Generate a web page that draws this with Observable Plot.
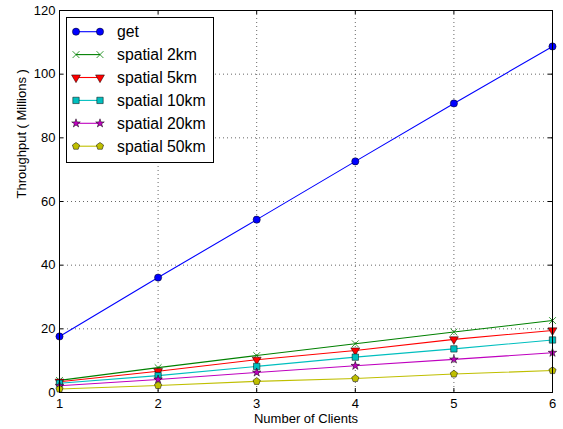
<!DOCTYPE html>
<html><head><meta charset="utf-8">
<script src="https://cdn.jsdelivr.net/npm/d3@7"></script>
<script src="https://cdn.jsdelivr.net/npm/@observablehq/plot@0.6"></script>
<style>
body{margin:0;background:#fff;}
</style>
</head><body><div id="chart"></div>
<script>
// ---- data ----
const clients = [1, 2, 3, 4, 5, 6];
const seriesNames = ["get", "spatial 2km", "spatial 5km", "spatial 10km", "spatial 20km", "spatial 50km"];
const getValues       = [17.6, 36.1, 54.3, 72.6, 90.8, 108.7];
const spatial2kmValues  = [3.8, 7.8, 11.6, 15.3, 19.0, 22.6];
const spatial5kmValues  = [3.4, 6.7, 10.3, 13.2, 16.7, 19.5];
const spatial10kmValues = [2.9, 5.3, 8.2, 11.1, 13.7, 16.5];
const spatial20kmValues = [2.1, 4.1, 6.3, 8.4, 10.4, 12.5];
const spatial50kmValues = [1.1, 2.2, 3.5, 4.4, 5.8, 6.9];
const xTicks = [1, 2, 3, 4, 5, 6];
const yTicks = [0, 20, 40, 60, 80, 100, 120];
const xLabel = "Number of Clients";
const yLabel = "Throughput ( Millions )";

const seriesValues = [getValues, spatial2kmValues, spatial5kmValues, spatial10kmValues, spatial20kmValues, spatial50kmValues];
const colors = ["#0000ff", "#008000", "#ff0000", "#00bfbf", "#bf00bf", "#bfbf00"];
const FONT = "'Liberation Sans', Arial, Helvetica, sans-serif";

// custom symbols
const triangleDown = {draw(ctx, size) {
  const r = Math.sqrt(size / (3 * Math.sqrt(3) / 4));
  ctx.moveTo(0, r);
  ctx.lineTo(-r * Math.sqrt(3) / 2, -r / 2);
  ctx.lineTo(r * Math.sqrt(3) / 2, -r / 2);
  ctx.closePath();
}};
const pentagon = {draw(ctx, size) {
  const r = Math.sqrt(size / (2.5 * Math.sin(2 * Math.PI / 5)));
  for (let i = 0; i < 5; i++) {
    const a = -Math.PI / 2 + i * 2 * Math.PI / 5;
    const px = r * Math.cos(a), py = r * Math.sin(a);
    if (i === 0) ctx.moveTo(px, py); else ctx.lineTo(px, py);
  }
  ctx.closePath();
}};
const symbols = [d3.symbolCircle, d3.symbolTimes, triangleDown, d3.symbolSquare, d3.symbolStar, pentagon];
const radii = [3.6, 3.2, 3.3, 3.6, 2.7, 3.3];

const table = [];
seriesNames.forEach((name, i) => clients.forEach((c, j) => table.push({series: name, clients: c, value: seriesValues[i][j]})));

const W = 563, H = 429, mL = 59, mR = 11, mT = 10, mB = 37;
const innerW = W - mL - mR, innerH = H - mT - mB;

const marks = [
  Plot.ruleX(xTicks, {stroke: "#000", strokeOpacity: 0.6, strokeDasharray: "1,3"}),
  Plot.ruleY(yTicks, {stroke: "#000", strokeOpacity: 0.6, strokeDasharray: "1,3"}),
  Plot.ruleX(xTicks, {stroke: "#000", insetTop: innerH - 4}),
  Plot.ruleX(xTicks, {stroke: "#000", insetBottom: innerH - 4}),
  Plot.ruleY(yTicks, {stroke: "#000", insetRight: innerW - 4}),
  Plot.ruleY(yTicks, {stroke: "#000", insetLeft: innerW - 4}),
  Plot.line(table, {x: "clients", y: "value", z: "series", stroke: "series", strokeWidth: 1.1})
];
seriesNames.forEach((name, i) => {
  const data = table.filter(d => d.series === name);
  if (i === 1) {
    marks.push(Plot.dot(data, {x: "clients", y: "value", symbol: () => symbols[i], r: radii[i], stroke: colors[i], fill: "none", strokeWidth: 0.8}));
  } else {
    marks.push(Plot.dot(data, {x: "clients", y: "value", symbol: () => symbols[i], r: radii[i], fill: colors[i], stroke: "#000", strokeWidth: 0.5}));
  }
});
marks.push(
  Plot.frame({stroke: "#000", strokeWidth: 1}),
  Plot.axisX(xTicks, {tickSize: 0, tickPadding: 6, fontSize: 13, label: null, fill: "#000"}),
  Plot.axisY(yTicks, {tickSize: 0, tickPadding: 4, fontSize: 13, label: null, fill: "#000"}),
  Plot.text([xLabel], {frameAnchor: "bottom", dy: 30, lineAnchor: "bottom", fontSize: 13, fill: "#000"}),
  Plot.text([yLabel], {frameAnchor: "left", dx: -38, dy: -3, rotate: -90, fontSize: 13, fill: "#000"})
);

const chart = Plot.plot({
  width: W, height: H,
  marginLeft: mL, marginRight: mR, marginTop: mT, marginBottom: mB,
  style: {background: "#fff", color: "#000", fontFamily: FONT},
  x: {domain: [1, 6]},
  y: {domain: [0, 120]},
  color: {domain: seriesNames, range: colors},
  marks
});
document.getElementById("chart").appendChild(chart);

// ---- legend ----
const svg = d3.select(chart);
const lg = svg.append("g").attr("font-family", FONT);
const lx = 66, ly = 17, lw = 147, lh = 145;
lg.append("rect").attr("x", lx + 0.5).attr("y", ly + 0.5).attr("width", lw).attr("height", lh)
  .attr("fill", "#fff").attr("stroke", "#000").attr("stroke-width", 1);
seriesNames.forEach((name, i) => {
  const y = ly + 14.7 + i * 22.9;
  const g = lg.append("g");
  g.append("line").attr("x1", 76).attr("x2", 100).attr("y1", y).attr("y2", y)
    .attr("stroke", colors[i]).attr("stroke-width", 1.1);
  const size = Math.PI * radii[i] * radii[i];
  [76, 100].forEach(px => {
    const p = g.append("path").attr("d", d3.symbol().type(symbols[i]).size(size)())
      .attr("transform", `translate(${px},${y})`);
    if (i === 1) p.attr("fill", "none").attr("stroke", colors[i]).attr("stroke-width", 0.8);
    else p.attr("fill", colors[i]).attr("stroke", "#000").attr("stroke-width", 0.5);
  });
  g.append("text").attr("x", 117).attr("y", y).attr("dy", "0.35em")
    .attr("text-anchor", "start")
    .attr("font-size", 15.8).attr("fill", "#000").text(name);
});
</script>
</body></html>
